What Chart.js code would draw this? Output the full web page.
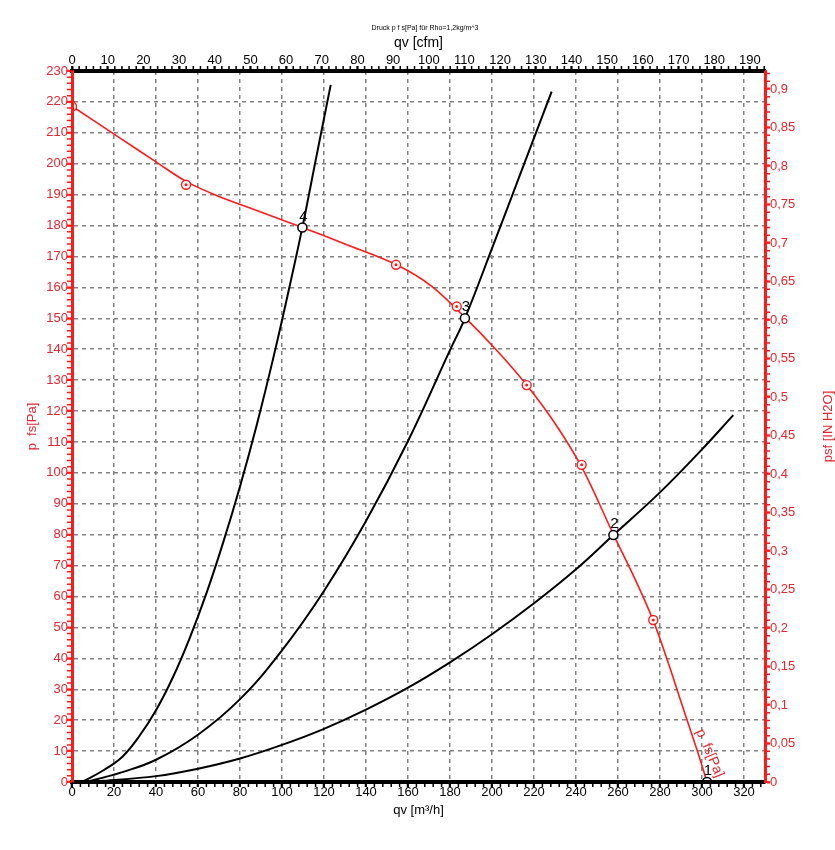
<!DOCTYPE html>
<html>
<head>
<meta charset="utf-8">
<script src="https://cdn.jsdelivr.net/npm/chart.js@4.4.1/dist/chart.umd.min.js"></script>
<style>
  body { margin: 0; background: #fff; }
  #wrap { width: 835px; height: 850px; }
</style>
</head>
<body>
<div id="wrap"><canvas id="fanChart" width="835" height="850"></canvas></div>
<script>
// fan curve p fs over qv  (m³/h, Pa)
const fanQ = [0, 22.9, 40, 54.3, 70, 84.8, 109.7, 132.4, 154.3, 171, 187.1, 202, 216.5, 230.5, 243, 258, 268, 276.8, 284, 289.5, 297.6, 302.4];
const fanP = [218.6, 208.3, 200.6, 194.3, 189.4, 185.7, 179.4, 173.4, 167.4, 160.5, 150.3, 139.8, 128.4, 115.5, 101.5, 79.8, 65.8, 52.2, 38.4, 27, 10.4, 0];

// measured points on the fan curve
const measQ = [0, 54.3, 154.3, 183.2, 216.5, 242.7, 276.8];
const measP = [218.5, 193.2, 167.3, 153.8, 128.4, 102.6, 52.4];

// operating points 1..4
const opQ = [302.4, 257.8, 187.1, 109.7];
const opP = [0, 79.9, 150.0, 179.4];
const opLabels = ['1', '2', '3', '4'];

// system curves (through 4, 3 and 2)
const sysAQ = [4.8, 15, 24, 32, 40, 48, 56, 64, 72, 80, 88, 96, 104, 109.7, 116, 123.2];
const sysAP = [0, 3.8, 8.2, 14.8, 23.2, 33.8, 46.5, 61, 77.5, 95.6, 115.6, 137.6, 161.5, 179.4, 201, 225.5];
const sysBQ = [4.5, 10, 24, 40, 60, 80, 100, 120, 140, 160, 180, 187.1, 200, 214, 228.4];
const sysBP = [0, 0.6, 3.2, 7.2, 15.3, 26.8, 42.6, 61.8, 84.4, 110.3, 139.7, 150, 172.6, 197.6, 223.3];
const sysCQ = [4.5, 15, 40, 60, 80, 100, 120, 140, 160, 180, 200, 220, 240, 257.8, 280, 300, 314.9];
const sysCP = [0, 0.4, 1.9, 4.3, 7.6, 12, 17.2, 23.4, 30.5, 38.7, 47.8, 57.8, 68.8, 79.9, 93.7, 107.6, 118.7];

// axis ranges
const qMax = 330;               // m³/h
const pMax = 230;               // Pa
const cfmPerM3h = 1 / 1.69901;
const inH2OPerPa = 1 / 249.089;

const titleText = 'Druck p f s[Pa] für Rho=1,2kg/m^3';
const fanName = 'p  fs[Pa]';
const fanLabelQ = 303.7, fanLabelP = 9.3;

const RED = '#ff1a1a';
const RED_TXT = '#e3262f';
const GRID = '#808080';
const FONT = '"Liberation Sans", Arial, sans-serif';

const pts = (xs, ys) => xs.map((v, i) => ({x: v, y: ys[i]}));

const minorTicks = [
  {id: 'x', step: 4, color: '#000'},
  {id: 'x2', step: 2, color: '#000'},
  {id: 'y', step: 2, color: RED},
  {id: 'y2', step: 0.01, color: RED}
];

const extras = {
  id: 'extras',
  afterDatasetsDraw(chart) {
    const {ctx, scales: {x, y}} = chart;
    ctx.save();
    ctx.fillStyle = '#000';
    ctx.font = '15px ' + FONT;
    ctx.textAlign = 'center';
    ctx.textBaseline = 'middle';
    opLabels.forEach((lbl, i) => {
      ctx.fillText(lbl, x.getPixelForValue(opQ[i]) + 1, y.getPixelForValue(opP[i]) - 11);
    });
    ctx.translate(x.getPixelForValue(fanLabelQ), y.getPixelForValue(fanLabelP));
    ctx.rotate(66.7 * Math.PI / 180);
    ctx.fillStyle = RED_TXT;
    ctx.font = '14px ' + FONT;
    ctx.fillText(fanName, 0, 0);
    ctx.restore();
  },
  afterDraw(chart) {
    const {ctx, chartArea: a} = chart;
    ctx.save();
    ctx.lineWidth = 1.5;
    minorTicks.forEach(m => {
      const s = chart.scales[m.id];
      const n = Math.floor(s.max / m.step + 1e-6);
      ctx.strokeStyle = m.color;
      ctx.beginPath();
      for (let i = 0; i <= n; i++) {
        const p = s.getPixelForValue(i * m.step);
        if (m.id === 'x') { ctx.moveTo(p, a.bottom); ctx.lineTo(p, a.bottom + 5); }
        if (m.id === 'x2') { ctx.moveTo(p, a.top); ctx.lineTo(p, a.top - 5); }
        if (m.id === 'y') { ctx.moveTo(a.left, p); ctx.lineTo(a.left - 5, p); }
        if (m.id === 'y2') { ctx.moveTo(a.right, p); ctx.lineTo(a.right + 5, p); }
      }
      ctx.stroke();
    });
    // right axis title, reading upwards
    ctx.fillStyle = RED_TXT;
    ctx.font = '13px ' + FONT;
    ctx.textAlign = 'center';
    ctx.textBaseline = 'middle';
    ctx.save();
    ctx.translate(828, (a.top + a.bottom) / 2);
    ctx.rotate(-Math.PI / 2);
    ctx.fillText('psf [IN H2O]', 0, 0);
    ctx.restore();
    // tiny chart title
    ctx.fillStyle = '#000';
    ctx.font = '7px ' + FONT;
    ctx.fillText(titleText, 425, 28);
    ctx.restore();
  }
};

const hideEdge = edges => c => edges.includes(c.tick.value) ? 'rgba(0,0,0,0)' : GRID;

new Chart(document.getElementById('fanChart'), {
  type: 'scatter',
  data: {
    datasets: [
      {
        label: 'Betriebspunkte',
        data: pts(opQ, opP),
        showLine: false,
        pointRadius: 4.5,
        pointBorderWidth: 1.5,
        pointBorderColor: '#000',
        pointBackgroundColor: '#fff'
      },
      {
        label: 'Messpunkte',
        data: pts(measQ, measP),
        showLine: false,
        pointRadius: 1.5,
        pointBorderWidth: 0,
        pointBackgroundColor: RED
      },
      {
        label: 'Messpunkte Ring',
        data: pts(measQ, measP),
        showLine: false,
        pointRadius: 4.5,
        pointBorderWidth: 1.4,
        pointBorderColor: RED,
        pointBackgroundColor: '#fff'
      },
      {
        label: fanName,
        data: pts(fanQ, fanP),
        showLine: true,
        borderColor: RED,
        borderWidth: 1.6,
        pointRadius: 0,
        tension: 0.35
      },
      {
        label: 'Anlage 4',
        data: pts(sysAQ, sysAP),
        showLine: true,
        borderColor: '#000',
        borderWidth: 2,
        pointRadius: 0,
        tension: 0.4
      },
      {
        label: 'Anlage 3',
        data: pts(sysBQ, sysBP),
        showLine: true,
        borderColor: '#000',
        borderWidth: 2,
        pointRadius: 0,
        tension: 0.4
      },
      {
        label: 'Anlage 2',
        data: pts(sysCQ, sysCP),
        showLine: true,
        borderColor: '#000',
        borderWidth: 2,
        pointRadius: 0,
        tension: 0.4
      }
    ]
  },
  options: {
    responsive: false,
    animation: false,
    layout: {padding: 0},
    plugins: {
      legend: {display: false},
      tooltip: {enabled: false},
      title: {display: false}
    },
    scales: {
      x: {
        type: 'linear',
        position: 'bottom',
        min: 0,
        max: qMax,
        afterFit: s => { s.height = 68; },
        ticks: {stepSize: 20, includeBounds: false, autoSkip: false, maxRotation: 0,
                color: '#000', font: {size: 13, family: FONT}, padding: -2},
        grid: {color: hideEdge([0]), lineWidth: 1.5, tickColor: '#000', tickLength: 5, tickWidth: 2},
        border: {color: '#000', width: 4, dash: [4, 4], z: 1},
        title: {display: true, text: 'qv [m³/h]', color: '#000', font: {size: 13, family: FONT},
                padding: {top: 0, bottom: 32}}
      },
      x2: {
        type: 'linear',
        position: 'top',
        min: 0,
        max: qMax * cfmPerM3h,
        afterFit: s => { s.height = 71; },
        ticks: {stepSize: 10, includeBounds: false, autoSkip: false, maxRotation: 0,
                color: '#000', font: {size: 13, family: FONT}, padding: -2},
        grid: {drawOnChartArea: false, tickColor: '#000', tickLength: 5, tickWidth: 2},
        border: {color: '#000', width: 4, z: 1},
        title: {display: true, text: 'qv [cfm]', color: '#000', font: {size: 14, family: FONT},
                padding: {top: 35, bottom: 0}}
      },
      y: {
        type: 'linear',
        position: 'left',
        min: 0,
        max: pMax,
        afterFit: s => { s.width = 72; },
        ticks: {stepSize: 10, includeBounds: false, autoSkip: false,
                color: RED_TXT, font: {size: 13, family: FONT}, padding: -1},
        grid: {color: hideEdge([0, pMax]), lineWidth: 1.5, tickColor: RED, tickLength: 5, tickWidth: 2},
        border: {color: RED, width: 3, dash: [4, 4], z: 1},
        title: {display: true, text: fanName, color: RED_TXT, font: {size: 13, family: FONT},
                padding: {top: 25, bottom: 0}}
      },
      y2: {
        type: 'linear',
        position: 'right',
        min: 0,
        max: pMax * inH2OPerPa,
        afterFit: s => { s.width = 70; },
        ticks: {stepSize: 0.05, includeBounds: false, autoSkip: false,
                color: RED_TXT, font: {size: 13, family: FONT}, padding: 0,
                callback: v => (Math.round(v * 100) / 100).toString().replace('.', ',')},
        grid: {drawOnChartArea: false, tickColor: RED, tickLength: 5, tickWidth: 2},
        border: {color: RED, width: 3, z: 1}
      }
    }
  },
  plugins: [extras]
});
</script>
</body>
</html>
